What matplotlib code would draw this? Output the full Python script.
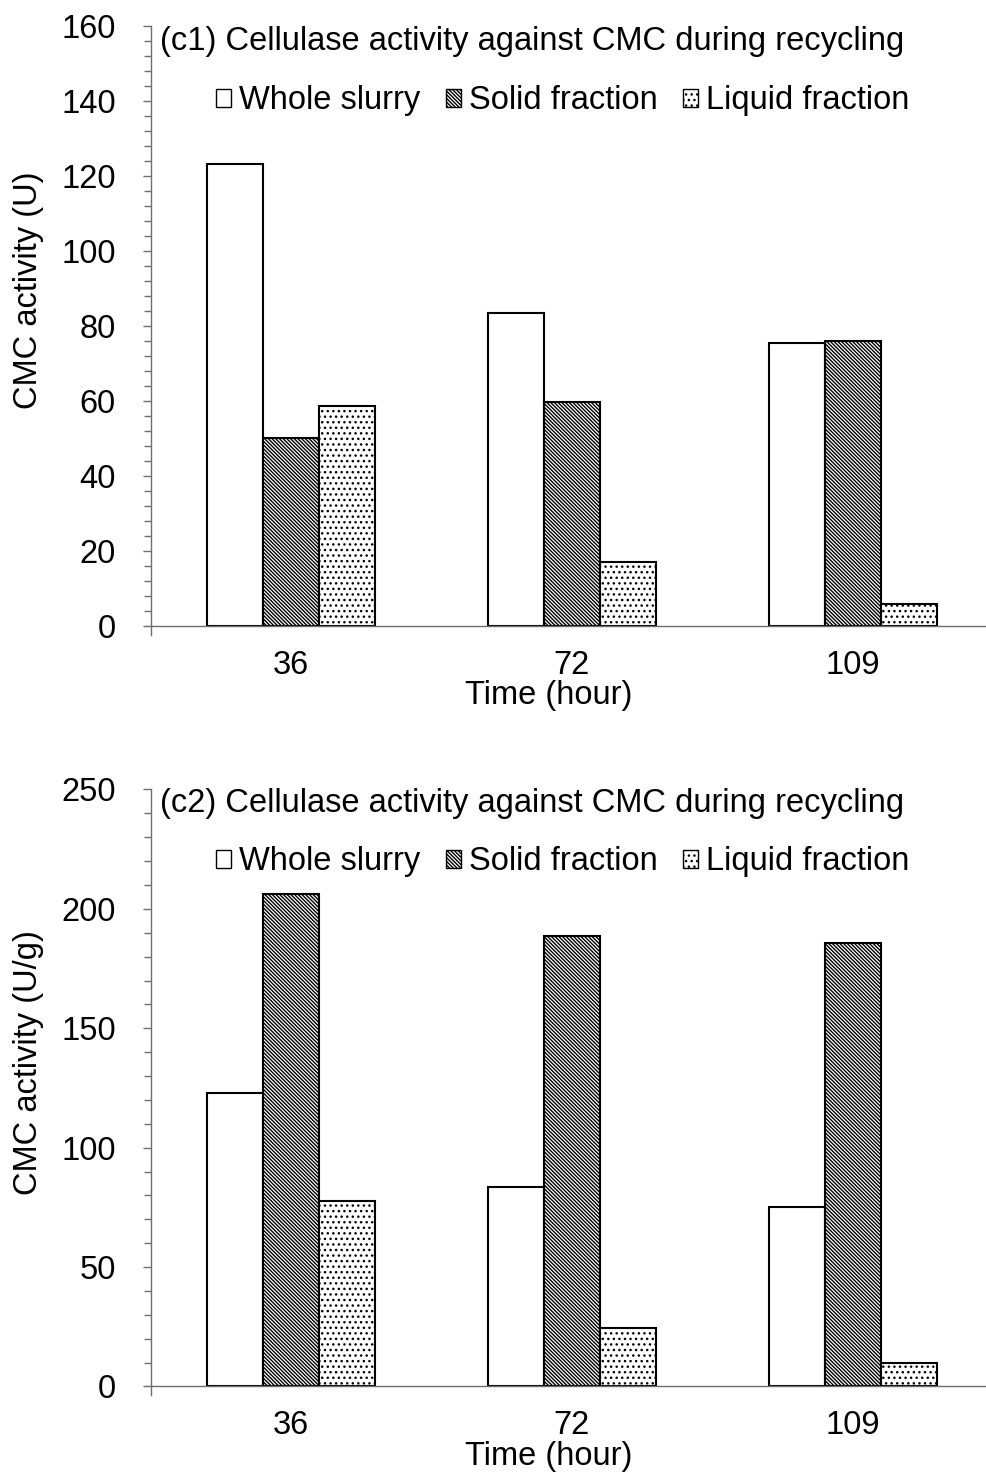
import numpy as np
import matplotlib
matplotlib.use("Agg")
import matplotlib.pyplot as plt
from matplotlib.ticker import MultipleLocator
from matplotlib.patches import Patch

plt.rcParams['font.family'] = ['Liberation Sans', 'DejaVu Sans']
plt.rcParams['hatch.linewidth'] = 1.0

# Данные
times = ["36", "72", "109"]
series = ["Whole slurry", "Solid fraction", "Liquid fraction"]

c1_whole = [123.3, 83.6, 75.5]
c1_solid = [50.2, 59.9, 76.0]
c1_liquid = [58.8, 17.1, 6.0]

c2_whole = [123.0, 83.6, 75.2]
c2_solid = [206.3, 188.7, 185.9]
c2_liquid = [77.8, 24.6, 9.8]

FS = 23.5
AXIS_GRAY = '#6e6e6e'
styles = [
    dict(facecolor='white', hatch=None),
    dict(facecolor='white', hatch='\\' * 9),
    dict(facecolor='white', hatch='...'),
]


def draw_panel(ax, data, title, ylabel, ymax, major, minor, ylab_y, title_y, leg_y, xlab_y):
    x = np.arange(len(times))
    width = 0.2
    for i, (vals, st) in enumerate(zip(data, styles)):
        ax.bar(x + (i - 1) * width, vals, width, edgecolor='black', linewidth=1.5,
               facecolor=st['facecolor'], hatch=st['hatch'], zorder=2)

    ax.set_xlim(-0.5, 2.5)
    ax.set_ylim(0, ymax)
    ax.yaxis.set_major_locator(MultipleLocator(major))
    ax.yaxis.set_minor_locator(MultipleLocator(minor))
    ax.set_xticks(x)
    ax.set_xticklabels(times)

    for s in ['top', 'right']:
        ax.spines[s].set_visible(False)
    for s in ['left', 'bottom']:
        ax.spines[s].set_color(AXIS_GRAY)
        ax.spines[s].set_linewidth(1.0)
    ax.spines['left'].set_bounds(-ymax * 0.014, ymax)

    ax.tick_params(axis='y', which='major', length=6, width=1.0, color=AXIS_GRAY,
                   labelsize=FS, pad=19)
    ax.tick_params(axis='y', which='minor', length=5, width=1.0, color=AXIS_GRAY)
    ax.tick_params(axis='x', length=0, labelsize=FS, pad=17)

    ax.set_xlabel("Time (hour)", fontsize=FS)
    ax.xaxis.set_label_coords(0.472, xlab_y)
    ax.xaxis.label.set_verticalalignment('center')
    ax.set_ylabel(ylabel, fontsize=FS)
    ax.yaxis.set_label_coords(-0.145, ylab_y)
    ax.yaxis.label.set_verticalalignment('center')

    ax.text(0.011, title_y, title, transform=ax.transAxes, fontsize=FS,
            ha='left', va='center')

    handles = [Patch(facecolor=st['facecolor'], hatch=st['hatch'], edgecolor='black',
                     linewidth=1.0) for st in styles]
    ax.legend(handles, series, loc='center', bbox_to_anchor=(0.489, leg_y), ncol=3,
              frameon=False, fontsize=FS, handlelength=0.46, handleheight=0.46,
              handletextpad=0.25, columnspacing=0.77, borderpad=0)


fig = plt.figure(figsize=(9.87, 14.74), dpi=100)
ax1 = fig.add_axes([0.1525, 0.5751, 0.854, 0.4071])
ax2 = fig.add_axes([0.1525, 0.0594, 0.854, 0.405])

draw_panel(ax1, [c1_whole, c1_solid, c1_liquid],
           "(c1) Cellulase activity against CMC during recycling",
           "CMC activity (U)", 160, 20, 4, 0.56, 0.974, 0.8755, -0.1145)
draw_panel(ax2, [c2_whole, c2_solid, c2_liquid],
           "(c2) Cellulase activity against CMC during recycling",
           "CMC activity (U/g)", 250, 50, 10, 0.542, 0.977, 0.8786, -0.118)

fig.savefig("out.png", dpi=100)
